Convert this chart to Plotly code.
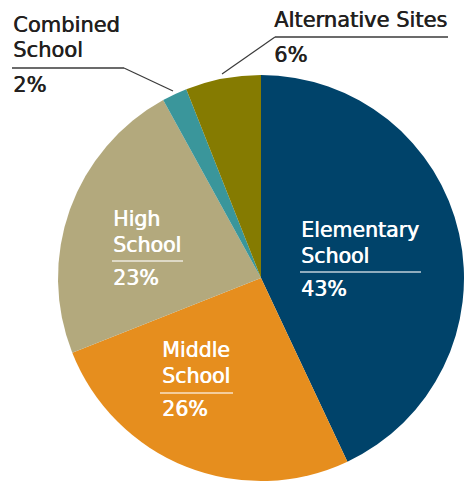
import plotly.graph_objects as go

# Share of schools by type
categories = ["Elementary School", "Middle School", "High School", "Combined School", "Alternative Sites"]
shares = [43, 26, 23, 2, 6]
colors = ["#00436A", "#E68E1E", "#B3A97D", "#3A969B", "#857B01"]

W, H = 464, 484

fig = go.Figure(
    go.Pie(
        labels=categories,
        values=shares,
        sort=False,
        direction="clockwise",
        rotation=0,
        marker=dict(colors=colors, line=dict(width=0)),
        textinfo="none",
        hoverinfo="label+percent",
        domain=dict(x=[(W - 406) / W, 1], y=[0, 412 / H]),
        showlegend=False,
    )
)


def px(x):
    return x / W


def py(y):
    return 1 - y / H


# label layout in pixels: left x, baselines of name lines, underline (y, x0, x1), percent baseline
label_layout = {
    "Elementary School": dict(x=300, lines=["Elementary", "School"], base=[237, 263],
                              rule=(272, 300, 421), pct=296, inside=True, size=20.5),
    "Middle School": dict(x=161, lines=["Middle", "School"], base=[357, 383],
                          rule=(393, 160, 233), pct=416, inside=True, size=20.5),
    "High School": dict(x=112, lines=["High", "School"], base=[226, 252],
                        rule=(261, 112, 183), pct=285, inside=True, size=20.5),
    "Combined School": dict(x=12, lines=["Combined", "School"], base=[32, 57],
                            rule=(68, 12, 124), pct=92, inside=False, size=21,
                            leader=((124, 68), (173, 91))),
    "Alternative Sites": dict(x=273, lines=["Alternative Sites"], base=[27],
                              rule=(37, 275, 448), pct=62, inside=False, size=21,
                              leader=((275, 37), (222, 74))),
}

FONT = "DejaVu Sans"
annotations = []
shapes = []
for cat, val in zip(categories, shares):
    lay = label_layout[cat]
    col = "#FFFFFF" if lay["inside"] else "#231F20"
    rule_col = "rgba(255,255,255,0.75)" if lay["inside"] else "#3A3A3A"
    s = lay["size"]
    texts = list(zip(lay["lines"], lay["base"])) + [(f"{val}%", lay["pct"])]
    for txt, base in texts:
        annotations.append(dict(
            text=txt, x=px(lay["x"]), y=py(base - 0.35 * s),
            xref="paper", yref="paper", xanchor="left", yanchor="middle",
            showarrow=False, borderpad=0,
            font=dict(family=FONT, size=s, color=col,
                      shadow=f"0.6px 0 0 {col}"),
        ))
    ry, rx0, rx1 = lay["rule"]
    shapes.append(dict(type="line", xref="paper", yref="paper",
                       x0=px(rx0), x1=px(rx1), y0=py(ry), y1=py(ry),
                       line=dict(color=rule_col, width=1.3)))
    if "leader" in lay:
        (lx0, ly0), (lx1, ly1) = lay["leader"]
        shapes.append(dict(type="line", xref="paper", yref="paper",
                           x0=px(lx0), x1=px(lx1), y0=py(ly0), y1=py(ly1),
                           line=dict(color="#3A3A3A", width=1.2)))

fig.update_layout(
    width=W, height=H,
    margin=dict(l=0, r=0, t=0, b=0),
    paper_bgcolor="white",
    plot_bgcolor="white",
    annotations=annotations,
    shapes=shapes,
)

fig.write_html("out.html")
